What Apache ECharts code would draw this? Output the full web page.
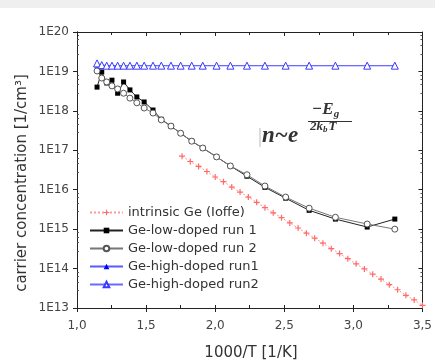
<!DOCTYPE html>
<html>
<head>
<meta charset="utf-8">
<script src="https://cdn.jsdelivr.net/npm/echarts@6/dist/echarts.min.js"></script>
<style>
  html, body { margin: 0; padding: 0; background: #fff; }
  #chart { width: 435px; height: 362px; }
</style>
</head>
<body>
<div id="chart"></div>
<script>
// 1000/T values of the measured points (same temperatures for all runs)
const xMeas = [1.145, 1.179, 1.215, 1.253, 1.294, 1.337, 1.383, 1.433, 1.486, 1.55, 1.61, 1.68,
  1.75, 1.83, 1.91, 2.01, 2.11, 2.23, 2.36, 2.51, 2.68, 2.87, 3.10, 3.30];

const lowRun1 = [4.0e18, 9.7e18, 5.1e18, 6.0e18, 2.8e18, 5.4e18, 3.4e18, 2.25e18, 1.68e18, 1.05e18, 6.1e17, 4.1e17,
  2.7e17, 1.7e17, 1.14e17, 6.8e16, 4.0e16, 2.2e16, 1.15e16, 6.1e15, 3.0e15, 1.8e15, 1.13e15, 1.8e15];
const lowRun2 = [1.03e19, 6.8e18, 5.4e18, 4.3e18, 3.6e18, 2.8e18, 2.1e18, 1.6e18, 1.18e18, 8.8e17, 5.9e17, 4.1e17,
  2.7e17, 1.7e17, 1.14e17, 6.8e16, 4.0e16, 2.4e16, 1.24e16, 6.5e15, 3.4e15, 2.0e15, 1.35e15, 1.0e15];
const highRun1 = [1.5e19, 1.45e19, 1.4e19, 1.4e19, 1.4e19, 1.4e19, 1.4e19, 1.4e19, 1.4e19, 1.4e19, 1.4e19, 1.4e19,
  1.4e19, 1.4e19, 1.4e19, 1.4e19, 1.4e19, 1.4e19, 1.4e19, 1.4e19, 1.4e19, 1.4e19, 1.4e19, 1.4e19];
const highRun2 = [1.6e19, 1.45e19, 1.4e19, 1.4e19, 1.4e19, 1.4e19, 1.4e19, 1.4e19, 1.4e19, 1.4e19, 1.4e19, 1.4e19,
  1.4e19, 1.4e19, 1.4e19, 1.4e19, 1.4e19, 1.4e19, 1.4e19, 1.4e19, 1.4e19, 1.4e19, 1.4e19, 1.4e19];

// intrinsic Ge (Ioffe)
const xIntr = [1.76, 1.82, 1.88, 1.94, 2.00, 2.06, 2.12, 2.18, 2.24, 2.30, 2.36, 2.42, 2.48, 2.54, 2.60,
  2.66, 2.72, 2.78, 2.84, 2.90, 2.96, 3.02, 3.08, 3.14, 3.20, 3.26, 3.32, 3.38, 3.44, 3.50];
const nIntr = [7.1e16, 5.2e16, 3.9e16, 2.9e16, 2.1e16, 1.6e16, 1.17e16, 8.7e15, 6.5e15, 4.8e15, 3.5e15, 2.6e15,
  1.95e15, 1.44e15, 1.07e15, 7.9e14, 5.9e14, 4.4e14, 3.2e14, 2.4e14, 1.78e14, 1.32e14, 9.8e13, 7.2e13,
  5.4e13, 3.9e13, 2.9e13, 2.1e13, 1.6e13, 1.17e13];

const seriesNames = ['intrinsic Ge (Ioffe)', 'Ge-low-doped run 1', 'Ge-low-doped run 2',
  'Ge-high-doped run1', 'Ge-high-doped run2'];

const pairs = (xs, ys) => xs.map((x, i) => [x, ys[i]]);

const chart = echarts.init(document.getElementById('chart'));

const axisLine = { show: true, lineStyle: { color: '#222', width: 1 } };
const xBase = { type: 'value', min: 1, max: 3.5, interval: 0.5, splitLine: { show: false }, axisLine: axisLine };
const yBase = { type: 'log', logBase: 10, min: 1e13, max: 1e20, splitNumber: 7, splitLine: { show: false }, axisLine: axisLine };

const option = {
  backgroundColor: '#fff',
  animation: false,
  grid: { left: 77, right: 10, top: 32, bottom: 54 },
  xAxis: [
    Object.assign({}, xBase, {
      position: 'bottom',
      axisTick: { show: true, inside: false, length: 4, lineStyle: { color: '#222' } },
      axisLabel: {
        margin: 12, color: '#444', fontFamily: 'DejaVu Sans', fontSize: 12,
        formatter: v => v.toFixed(1).replace('.', ',')
      }
    }),
    Object.assign({}, xBase, {
      position: 'bottom',
      axisLabel: { show: false },
      axisTick: { show: true, inside: true, length: 3, lineStyle: { color: '#222' } },
      minorTick: { show: true, splitNumber: 2, length: 3, lineStyle: { color: '#222' } }
    }),
    Object.assign({}, xBase, {
      position: 'top',
      axisLabel: { show: false },
      axisTick: { show: true, inside: true, length: 4, lineStyle: { color: '#222' } },
      minorTick: { show: true, splitNumber: 2, length: 3, lineStyle: { color: '#222' } }
    })
  ],
  yAxis: [
    Object.assign({}, yBase, {
      position: 'left',
      axisTick: { show: true, inside: false, length: 4, lineStyle: { color: '#222' } },
      axisLabel: {
        margin: 8, color: '#444', fontFamily: 'DejaVu Sans', fontSize: 12,
        formatter: v => '1E' + Math.round(Math.log10(v))
      }
    }),
    Object.assign({}, yBase, {
      position: 'left',
      axisLabel: { show: false },
      axisTick: { show: false, inside: true },
      minorTick: { show: true, splitNumber: 5, length: 2, lineStyle: { color: '#555' } }
    }),
    Object.assign({}, yBase, {
      position: 'right',
      axisLabel: { show: false },
      axisTick: { show: true, inside: true, length: 4, lineStyle: { color: '#222' } },
      minorTick: { show: true, splitNumber: 5, length: 2, lineStyle: { color: '#555' } }
    })
  ],
  legend: {
    orient: 'vertical',
    left: 84,
    top: 201,
    itemWidth: 33,
    itemHeight: 7,
    itemGap: 5,
    textStyle: { fontFamily: 'DejaVu Sans', fontSize: 13, color: '#333' },
    data: seriesNames
  },
  graphic: [
    { type: 'rect', shape: { x: 0, y: 0, width: 435, height: 8 }, style: { fill: '#efefef' }, silent: true },
    {
      type: 'text', x: 22, y: 183, rotation: Math.PI / 2,
      style: {
        text: 'carrier concentration [1/cm³]', fill: '#333',
        font: '15px "DejaVu Sans"', align: 'center', verticalAlign: 'middle'
      }
    },
    {
      type: 'text', x: 251, y: 353,
      style: {
        text: '1000/T [1/K]', fill: '#333',
        font: '15px "DejaVu Sans"', align: 'center', verticalAlign: 'middle'
      }
    },
    // formula n ~ e^(-Eg / 2 kb T)
    { type: 'line', shape: { x1: 260, y1: 128, x2: 260, y2: 147 }, style: { stroke: '#bbb', lineWidth: 1 } },
    {
      type: 'text', x: 262, y: 136,
      style: {
        text: 'n~e', fill: '#333', font: 'italic bold 23px "Liberation Serif"',
        align: 'left', verticalAlign: 'middle'
      }
    },
    {
      type: 'text', x: 312, y: 110,
      style: {
        text: '{a|−E}{s|g}', fill: '#333', align: 'left', verticalAlign: 'middle',
        rich: {
          a: { font: 'italic bold 17px "Liberation Serif"', fill: '#333' },
          s: { font: 'italic bold 11px "Liberation Serif"', fill: '#333', padding: [8, 0, 0, 0] }
        }
      }
    },
    { type: 'line', shape: { x1: 308, y1: 121.5, x2: 352, y2: 121.5 }, style: { stroke: '#333', lineWidth: 1.2 } },
    {
      type: 'text', x: 310, y: 127,
      style: {
        text: '{a|2k}{s|b}{a|T}', fill: '#333', align: 'left', verticalAlign: 'middle',
        rich: {
          a: { font: 'italic bold 13px "Liberation Serif"', fill: '#333' },
          s: { font: 'italic bold 9px "Liberation Serif"', fill: '#333', padding: [5, 1, 0, 0] }
        }
      }
    }
  ],
  series: [
    {
      name: seriesNames[0], type: 'line', data: pairs(xIntr, nIntr),
      symbol: 'path://M4,0H6V4H10V6H6V10H4V6H0V4H4Z', symbolSize: 6,
      itemStyle: { color: '#ff6b6b' },
      lineStyle: { color: '#ff9a9a', width: 1, type: [2, 2] }
    },
    {
      name: seriesNames[1], type: 'line', data: pairs(xMeas, lowRun1),
      symbol: 'rect', symbolSize: 5,
      itemStyle: { color: '#000' },
      lineStyle: { color: '#222', width: 1 }
    },
    {
      name: seriesNames[2], type: 'line', data: pairs(xMeas, lowRun2),
      symbol: 'circle', symbolSize: 6,
      itemStyle: { color: '#fff', borderColor: '#555', borderWidth: 1 },
      lineStyle: { color: '#777', width: 1 }
    },
    {
      name: seriesNames[3], type: 'line', data: pairs(xMeas, highRun1),
      symbol: 'triangle', symbolSize: 6,
      itemStyle: { color: '#0000ff' },
      lineStyle: { color: '#5a5aff', width: 1 }
    },
    {
      name: seriesNames[4], type: 'line', data: pairs(xMeas, highRun2),
      symbol: 'triangle', symbolSize: 7,
      itemStyle: { color: '#fff', borderColor: '#3a3aff', borderWidth: 1 },
      lineStyle: { color: '#6a6aff', width: 1 }
    }
  ]
};

chart.setOption(option);
</script>
</body>
</html>
